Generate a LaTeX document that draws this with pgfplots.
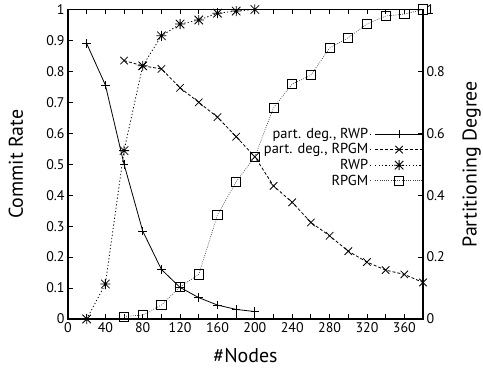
\documentclass[border=0pt]{standalone}
\usepackage{fontspec}
\setmainfont{PT Sans}
\usepackage{pgfplots}
\pgfplotsset{compat=1.18}

% gnuplot-style point types
\pgfdeclareplotmark{gpplus}{%
  \pgfpathmoveto{\pgfqpoint{-\pgfplotmarksize}{0pt}}\pgfpathlineto{\pgfqpoint{\pgfplotmarksize}{0pt}}%
  \pgfpathmoveto{\pgfqpoint{0pt}{-\pgfplotmarksize}}\pgfpathlineto{\pgfqpoint{0pt}{\pgfplotmarksize}}%
  \pgfusepathqstroke}
\pgfdeclareplotmark{gpcross}{%
  \pgfpathmoveto{\pgfqpoint{-.85\pgfplotmarksize}{-.85\pgfplotmarksize}}\pgfpathlineto{\pgfqpoint{.85\pgfplotmarksize}{.85\pgfplotmarksize}}%
  \pgfpathmoveto{\pgfqpoint{-.85\pgfplotmarksize}{.85\pgfplotmarksize}}\pgfpathlineto{\pgfqpoint{.85\pgfplotmarksize}{-.85\pgfplotmarksize}}%
  \pgfusepathqstroke}
\pgfdeclareplotmark{gpstar}{%
  \pgfpathmoveto{\pgfqpoint{-\pgfplotmarksize}{0pt}}\pgfpathlineto{\pgfqpoint{\pgfplotmarksize}{0pt}}%
  \pgfpathmoveto{\pgfqpoint{0pt}{-\pgfplotmarksize}}\pgfpathlineto{\pgfqpoint{0pt}{\pgfplotmarksize}}%
  \pgfpathmoveto{\pgfqpoint{-.85\pgfplotmarksize}{-.85\pgfplotmarksize}}\pgfpathlineto{\pgfqpoint{.85\pgfplotmarksize}{.85\pgfplotmarksize}}%
  \pgfpathmoveto{\pgfqpoint{-.85\pgfplotmarksize}{.85\pgfplotmarksize}}\pgfpathlineto{\pgfqpoint{.85\pgfplotmarksize}{-.85\pgfplotmarksize}}%
  \pgfusepathqstroke}

\tikzset{
  pdrwp/.style={black, line width=0.8bp, solid, mark=gpplus, mark size=4.3bp, mark options={solid}},
  pdrpgm/.style={black, line width=0.8bp, dash pattern=on 3bp off 2bp, mark=gpcross, mark size=4.4bp, mark options={solid}},
  crrwp/.style={black, line width=0.8bp, dash pattern=on 1.2bp off 2.2bp, mark=gpstar, mark size=5bp, mark options={solid}},
  crrpgm/.style={black!75, line width=0.7bp, dash pattern=on 0.8bp off 1.4bp, mark=square, mark size=4.6bp, mark options={solid, black, line width=0.8bp}},
}

\pgfplotsset{
  common/.style={
    scale only axis, width=355bp, height=309.5bp,
    at={(68bp,50bp)}, anchor=south west,
    xmin=0, xmax=380, ymin=0, ymax=1,
    tick align=inside, major tick length=5bp, minor tick length=5bp,
    axis line style={line width=1.3bp},
    every tick/.style={black, line width=0.8bp},
    tick label style={font=\fontsize{14}{15}\selectfont},
    label style={font=\fontsize{20}{22}\selectfont},
    /pgf/number format/assume math mode=true,
    clip=false,
  },
}

\begin{document}
\begin{tikzpicture}
% Commit rate (left axis)
\begin{axis}[common,
  xtick={0,40,...,360}, minor x tick num=1, xtick pos=both,
  ytick={0,0.1,...,1.01}, ytick pos=left,
  yticklabel style={/pgf/number format/.cd, fixed, precision=1},
  xlabel={\#Nodes},
  xlabel style={at={(axis description cs:0.5,-0.1195)}, anchor=center},
  ylabel={Commit Rate},
  ylabel style={at={(axis description cs:-0.1465,0.5)}, anchor=center},
]
\addplot[crrwp] coordinates {
  (20,0) (40,0.113) (60,0.544) (80,0.818) (100,0.915) (120,0.953)
  (140,0.966) (160,0.988) (180,0.995) (200,1.0)};
\addplot[crrpgm] coordinates {
  (60,0.008) (80,0.013) (100,0.045) (120,0.104) (140,0.144) (160,0.336)
  (180,0.444) (200,0.524) (220,0.683) (240,0.759) (260,0.788) (280,0.875)
  (300,0.909) (320,0.953) (340,0.979) (360,0.985) (380,1.0)};
\end{axis}
% Partitioning degree (right axis)
\begin{axis}[common,
  axis x line=none,
  axis y line*=right,
  ytick={0,0.2,...,1.01}, ytick pos=right,
  yticklabel style={/pgf/number format/.cd, fixed, precision=1},
  ylabel={Partitioning Degree},
  ylabel style={at={(axis description cs:1.137,0.5)}, anchor=center, rotate=0},
  legend plot pos=right,
  legend cell align=right,
  legend image code/.code={%
    \path (0bp,0bp) -- (1bp,0bp);
    \draw[mark repeat=2, mark phase=2, #1] plot coordinates {(5bp,0bp) (29bp,0bp) (53bp,0bp)};},
  legend style={draw=none, fill=none, at={(rel axis cs:1.002,0.622)}, anchor=north east,
    font=\fontsize{14.5}{15}\selectfont, inner sep=0pt, row sep=0.8bp,
    nodes={inner sep=1.5bp}},
]
\addplot[pdrwp] coordinates {
  (20,0.89) (40,0.756) (60,0.50) (80,0.284) (100,0.16) (120,0.102)
  (140,0.069) (160,0.045) (180,0.031) (200,0.024)};
\addlegendentry{part. deg., RWP}
\addplot[pdrpgm] coordinates {
  (60,0.835) (80,0.818) (100,0.808) (120,0.747) (140,0.70) (160,0.652)
  (180,0.589) (200,0.524) (220,0.43) (240,0.377) (260,0.312) (280,0.269)
  (300,0.219) (320,0.184) (340,0.158) (360,0.144) (380,0.118)};
\addlegendentry{part. deg., RPGM}
\addlegendimage{crrwp}
\addlegendentry{RWP}
\addlegendimage{crrpgm}
\addlegendentry{RPGM}
\end{axis}
\pgfresetboundingbox
\path (0,0) rectangle (483bp,369bp);
\end{tikzpicture}
\end{document}
